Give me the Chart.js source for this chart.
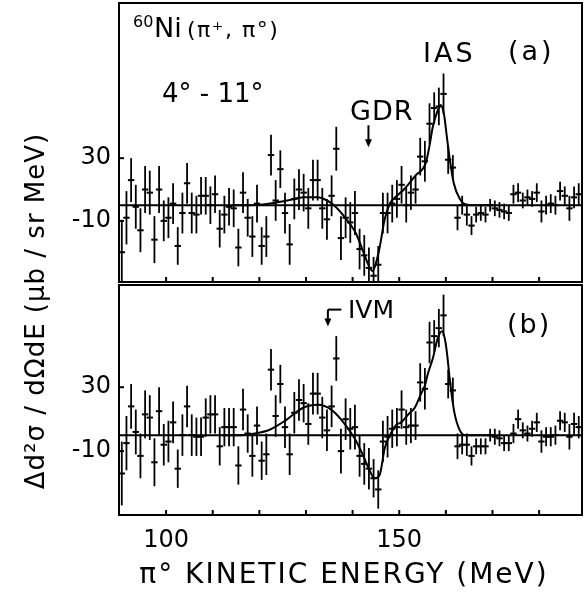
<!DOCTYPE html>
<html><head><meta charset="utf-8">
<script src="https://cdn.jsdelivr.net/npm/chart.js@4/dist/chart.umd.min.js"></script>
<style>
html,body{margin:0;padding:0;background:#fff;}
#wrap{position:relative;width:584px;height:592px;background:#fff;}
canvas{position:absolute;left:0;top:0;}
</style></head><body>
<div id="wrap"><canvas id="ca" width="584" height="592"></canvas><canvas id="cb" width="584" height="592"></canvas></div>
<script>
// ---- data ----
const energies = [
 90.5, 91.5, 92.5, 93.5, 94.5, 95.5, 96.5, 97.5, 98.5, 99.5,
 100.5,101.5,102.5,103.5,104.5,105.5,106.5,107.5,108.5,109.5,
 110.5,111.5,112.5,113.5,114.5,115.5,116.5,117.5,118.5,119.5,
 120.5,121.5,122.5,123.5,124.5,125.5,126.5,127.5,128.5,129.5,
 130.5,131.5,132.5,133.5,134.5,135.5,136.5,137.5,138.5,139.5,
 140.5,141.5,142.5,143.5,144.5,145.5,146.5,147.5,148.5,149.5,
 150.5,151.5,152.5,153.5,154.5,155.5,156.5,157.5,158.5,159.5,
 160.5,161.5,162.5,163.5,164.5,165.5,166.5,167.5,168.5,169.5,
 170.5,171.5,172.5,173.5,174.5,175.5,176.5,177.5,178.5,179.5,
 180.5,181.5,182.5,183.5,184.5,185.5,186.5,187.5,188.5];

const valuesA = [
 -30,-8,16,-1,-16,10,8,-22,10,-10,
 -8,1,-26,-5,14,-5,-6,6,6,0,
 7,-15,-6,-1,-2,-27,8,-8,-20,1,
 -26,-20,32,3,23,-5,-25,4,10,8,
 -2,16,16,-2,-9,6,36,-21,-8,-11,
 -5,-28,-32,-40,-45,-38,-5,-5,1,4,
 13,0,8,10,31,28,52,62,63,71,
 29,24,-8,0,-6,-13,-6,-5,-6,0,
 -2,-3,-4,-5,7,8,3,5,4,8,
 -4,0,1,0,9,6,-2,5,7];
const errorsA = [
 20,17,14,14,14,15,14,15,15,13,
 13,13,12,13,13,13,12,12,12,12,
 12,12,12,12,12,12,13,12,13,12,
 12,13,13,13,12,13,13,13,13,12,
 13,13,13,13,13,13,14,14,13,13,
 14,13,13,13,12,12,13,13,12,12,
 12,11,11,9,12,13,13,10,12,13,
 9,8,8,6,7,6,5,5,5,4,
 5,5,5,5,6,6,5,5,5,6,
 7,6,6,6,6,6,8,7,7];

const valuesB = [
 -24,-5,18,2,-13,13,11,-17,15,-6,
 -4,8,-21,0,18,0,-1,-1,11,13,
 13,-7,5,5,5,-19,16,1,-13,6,
 -16,-12,41,12,32,5,-12,14,22,20,
 7,26,26,11,3,18,48,-10,10,4,
 5,-13,-18,-21,-27,-34,-4,-1,4,5,
 16,5,6,6,33,29,58,62,67,75,
 32,28,-7,-6,-6,-13,-7,-7,-7,0,
 -1,-2,-5,-5,1,10,3,1,4,8,
 -4,-1,-1,0,9,8,-1,7,5];
const errorsB = [
 20,17,14,14,14,15,14,15,15,13,
 13,13,12,13,13,13,12,12,12,12,
 12,12,12,12,12,12,13,12,13,12,
 12,13,13,13,12,13,13,13,13,12,
 13,13,13,13,13,13,14,14,13,13,
 14,13,13,13,12,12,13,13,12,12,
 12,11,11,9,12,13,13,10,12,13,
 9,8,8,6,7,6,5,5,5,4,
 5,5,5,5,6,6,5,5,5,6,
 7,6,6,6,6,6,8,7,7];

// fitted curves (knots)
const fitA_E = [114,118,122,126,129.5,132.5,134.5,136,138.6,140.8,142.2,143.6,144.3,145,145.8,146.9,148,149.5,151,153.5,155.7,156.5,157.2,158.2,158.9,159.6,160.2,160.8,161.7,163,164.2,165.5,170];
const fitA_V = [0,0,1,3,5,5,3,0,-8.7,-18.5,-29,-39.5,-42,-37,-27,-8.7,1,6,10,19,27,38,50,60,64,58,44,30,14,4,0.5,0,0];
const fitB_E = [112,116,119,122.2,125.8,129.3,132.6,135.4,137.6,139.7,140.8,142.2,143.6,144.7,145.8,146.9,148,149.4,150.4,152.2,153.3,154.7,155.5,156.1,157.2,158.3,159.2,159.8,160.3,160.8,161.8,163,164.2,170];
const fitB_V = [0,0,1,3.4,9.6,17,19,16,9.6,1.3,-4,-12.4,-21.8,-27,-25,-8,0,6.5,8,13.8,17,26,31,38,48,61,65,60,50,36,14.6,3,0,0];

const xTickMarks = [100,110,120,130,140,150,160,170,180];
const xTickLabels = [100,150];
const yTickLabels = [30,-10];

// ---- helpers ----
const FONT = '"DejaVu Sans", "Liberation Sans", sans-serif';
const X_MIN = 89.9, X_MAX = 189.2;

function text(ctx, s, x, y, size, opts = {}) {
  ctx.save();
  ctx.font = `${size}px ${FONT}`;
  ctx.letterSpacing = (opts.spacing || 0) + 'px';
  ctx.textAlign = opts.align || 'left';
  ctx.textBaseline = opts.baseline || 'alphabetic';
  ctx.fillStyle = '#000';
  ctx.fillText(s, x, y);
  ctx.restore();
}

function arrowDown(ctx, x, y0, y1) {
  ctx.save();
  ctx.strokeStyle = '#000'; ctx.fillStyle = '#000'; ctx.lineWidth = 2;
  ctx.beginPath(); ctx.moveTo(x, y0); ctx.lineTo(x, y1 - 6); ctx.stroke();
  ctx.beginPath(); ctx.moveTo(x - 3.5, y1 - 8); ctx.lineTo(x + 3.5, y1 - 8); ctx.lineTo(x, y1); ctx.closePath(); ctx.fill();
  ctx.restore();
}

const decor = {
  id: 'decor',
  afterDatasetsDraw(chart, args, opts) {
    const ctx = chart.ctx, a = chart.chartArea;
    const xs = chart.scales.x, ys = chart.scales.y;
    // error bars
    const pts = chart.data.datasets[2];
    ctx.save();
    ctx.beginPath(); ctx.rect(a.left, a.top, a.right - a.left, a.bottom - a.top); ctx.clip();
    ctx.strokeStyle = '#000'; ctx.lineWidth = 1.8;
    pts.data.forEach((p, i) => {
      const e = pts.err[i];
      const px = xs.getPixelForValue(p.x);
      ctx.beginPath();
      ctx.moveTo(px, ys.getPixelForValue(p.y - e));
      ctx.lineTo(px, ys.getPixelForValue(p.y + e));
      ctx.stroke();
    });
    ctx.restore();
    // frame
    ctx.save();
    ctx.strokeStyle = '#000'; ctx.lineWidth = 2;
    ctx.strokeRect(a.left, a.top, a.right - a.left, a.bottom - a.top);
    // inward tick marks
    xTickMarks.forEach(v => {
      const px = xs.getPixelForValue(v);
      ctx.beginPath(); ctx.moveTo(px, a.bottom); ctx.lineTo(px, a.bottom - 5); ctx.stroke();
    });
    yTickLabels.forEach(v => {
      const py = ys.getPixelForValue(v);
      ctx.beginPath(); ctx.moveTo(a.left, py); ctx.lineTo(a.left + 5, py); ctx.stroke();
    });
    ctx.restore();
    if (opts.draw) opts.draw(chart, ctx, xs, ys, a);
  }
};

function makeChart(id, vals, errs, fitE, fitV, yMin, yMax, topPad, bottomSpace, showX, draw) {
  return new Chart(document.getElementById(id), {
    type: 'scatter',
    data: {
      datasets: [
        { data: [{x: X_MIN, y: 0}, {x: X_MAX, y: 0}], showLine: true, borderColor: '#000', borderWidth: 2, pointRadius: 0 },
        { data: fitE.map((e, i) => ({x: e, y: fitV[i]})), showLine: true, borderColor: '#000', borderWidth: 2, pointRadius: 0, cubicInterpolationMode: 'monotone' },
        { data: energies.map((e, i) => ({x: e, y: vals[i]})), err: errs, showLine: false, pointStyle: 'line', pointRadius: 3.2, borderWidth: 2, borderColor: '#000', backgroundColor: '#000' }
      ]
    },
    options: {
      responsive: false, animation: false, devicePixelRatio: 1,
      layout: { autoPadding: false, padding: { left: 0, right: 2, top: topPad, bottom: 0 } },
      plugins: { legend: { display: false }, tooltip: { enabled: false }, decor: { draw } },
      scales: {
        x: {
          type: 'linear', min: X_MIN, max: X_MAX,
          grid: { display: false, drawTicks: false }, border: { display: false },
          afterBuildTicks: s => { s.ticks = xTickLabels.map(v => ({value: v})); },
          ticks: { display: showX, padding: 11, color: '#000', font: { family: FONT, size: 24 }, maxRotation: 0, autoSkip: false },
          afterFit: s => { s.height = bottomSpace; s.paddingLeft = 0; s.paddingRight = 0; s.paddingTop = 0; s.paddingBottom = 0; }
        },
        y: {
          min: yMin, max: yMax,
          grid: { display: false, drawTicks: false }, border: { display: false },
          afterBuildTicks: s => { s.ticks = yTickLabels.map(v => ({value: v})); },
          ticks: { padding: 8, color: '#000', font: { family: FONT, size: 24 }, autoSkip: false },
          afterFit: s => { s.width = 119; s.paddingTop = 0; s.paddingBottom = 0; s.paddingLeft = 0; s.paddingRight = 0; }
        }
      }
    },
    plugins: [decor]
  });
}

makeChart('ca', valuesA, errorsA, fitA_E, fitA_V, -49, 129, 3, 310, false, (chart, ctx, xs, ys, a) => {
  text(ctx, '60', 133, 27, 16);
  text(ctx, 'Ni', 154, 37, 27);
  text(ctx, '(π⁺, π°)', 187, 37, 22, {spacing: 1.5});
  text(ctx, '4° - 11°', 162, 102, 26);
  text(ctx, 'IAS', 423, 62, 27, {spacing: 3});
  text(ctx, '(a)', 508, 60, 27, {spacing: 3});
  text(ctx, 'GDR', 350, 120, 27, {spacing: 1});
  arrowDown(ctx, xs.getPixelForValue(143.4), ys.getPixelForValue(51), ys.getPixelForValue(37));
});

makeChart('cb', valuesB, errorsB, fitB_E, fitB_V, -50, 94, 285, 77, true, (chart, ctx, xs, ys, a) => {
  text(ctx, 'IVM', 348, 318, 25);
  text(ctx, '(b)', 507, 333, 27, {spacing: 2});
  const ax = xs.getPixelForValue(134.7), ay = ys.getPixelForValue(78.6);
  ctx.save(); ctx.strokeStyle = '#000'; ctx.lineWidth = 2;
  ctx.beginPath(); ctx.moveTo(xs.getPixelForValue(137.6), ay); ctx.lineTo(ax, ay); ctx.stroke();
  ctx.restore();
  arrowDown(ctx, ax, ay, ys.getPixelForValue(68));
  // axis titles
  text(ctx, 'π° KINETIC ENERGY (MeV)', 344, 583, 28, {align: 'center', spacing: 2});
  ctx.save();
  ctx.translate(37, 311); ctx.rotate(-Math.PI / 2);
  text(ctx, 'Δd²σ / dΩdE (μb / sr MeV)', 0, 0, 26, {align: 'center', baseline: 'middle', spacing: 1});
  ctx.restore();
});
</script>
</body></html>
